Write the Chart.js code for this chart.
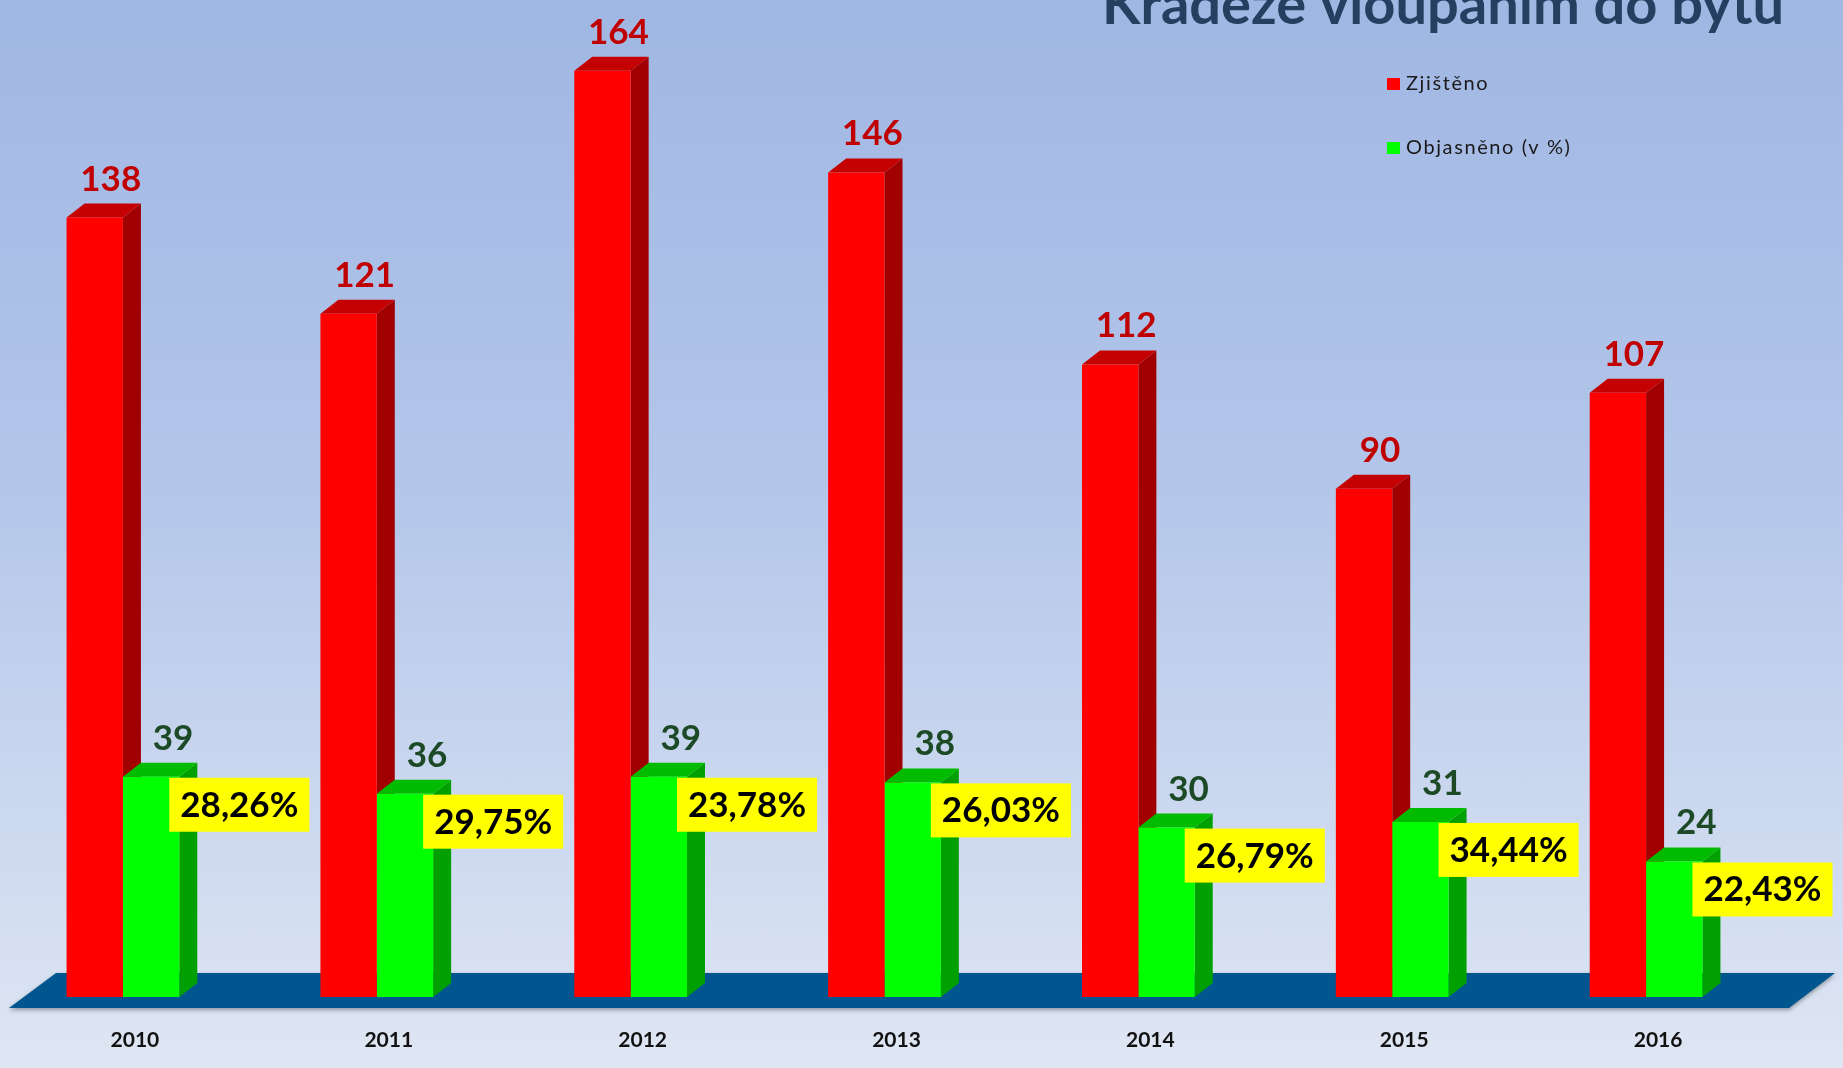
<!DOCTYPE html>
<html>
<head>
<meta charset="utf-8">
<script src="https://cdn.jsdelivr.net/npm/chart.js@4.4.0/dist/chart.umd.min.js"></script>
<style>
  html, body { margin: 0; padding: 0; }
  body {
    width: 1843px; height: 1068px; overflow: hidden; position: relative;
    background: linear-gradient(to bottom, #a0b7e3 0%, #b3c6ea 45%, #dfe6f3 100%);
  }
  /* canvas starts a few px left of the page, like the cropped slide */
  #wrap { position: absolute; left: -4px; top: 0; width: 1847px; height: 1068px; }
</style>
</head>
<body>
<div id="wrap"><canvas id="chart"></canvas></div>
<script>
const title = 'Krádeže vloupáním do bytu';
const years = ['2010', '2011', '2012', '2013', '2014', '2015', '2016'];
const zjisteno = [138, 121, 164, 146, 112, 90, 107];
const objasneno = [39, 36, 39, 38, 30, 31, 24];
const procenta = ['28,26%', '29,75%', '23,78%', '26,03%', '26,79%', '34,44%', '22,43%'];

// depth of the fake 3d blocks
const DX = 18, DY = 14;
const faces = [
  { front: '#ff0000', side: '#a00000', top: '#c40000' },
  { front: '#00ff00', side: '#00a000', top: '#00bb00' },
];

const threeD = {
  id: 'threeD',
  beforeDatasetsDraw(chart) {
    const ctx = chart.ctx;
    const area = chart.chartArea;
    const y0 = chart.scales.y.getPixelForValue(0);

    // floor
    ctx.save();
    ctx.shadowColor = 'rgba(0,0,0,0.35)';
    ctx.shadowBlur = 4;
    ctx.shadowOffsetY = 2;
    ctx.fillStyle = '#02568f';
    ctx.beginPath();
    ctx.moveTo(area.left + 60, y0 - 24);
    ctx.lineTo(area.right + 62, y0 - 24);
    ctx.lineTo(area.right + 16, y0 + 11);
    ctx.lineTo(area.left + 13, y0 + 11);
    ctx.closePath();
    ctx.fill();
    ctx.restore();

    // side + top faces, fronts are drawn by chart.js on top
    chart.data.datasets.forEach((ds, di) => {
      chart.getDatasetMeta(di).data.forEach(bar => {
        const l = bar.x - bar.width / 2, r = bar.x + bar.width / 2;
        const t = bar.y, b = bar.base;
        ctx.fillStyle = faces[di].side;
        ctx.beginPath();
        ctx.moveTo(r, t);
        ctx.lineTo(r + DX, t - DY);
        ctx.lineTo(r + DX, b - DY);
        ctx.lineTo(r, b);
        ctx.closePath();
        ctx.fill();
        ctx.fillStyle = faces[di].top;
        ctx.beginPath();
        ctx.moveTo(l, t);
        ctx.lineTo(l + DX, t - DY);
        ctx.lineTo(r + DX, t - DY);
        ctx.lineTo(r, t);
        ctx.closePath();
        ctx.fill();
      });
    });
  },
  afterDatasetsDraw(chart) {
    const ctx = chart.ctx;
    ctx.save();
    ctx.font = 'bold 35px Lato';
    ctx.textAlign = 'center';
    ctx.textBaseline = 'alphabetic';

    chart.getDatasetMeta(0).data.forEach((bar, i) => {
      ctx.fillStyle = '#c00000';
      ctx.fillText(String(zjisteno[i]), bar.x + 16, bar.y - 27);
    });
    chart.getDatasetMeta(1).data.forEach((bar, i) => {
      ctx.fillStyle = '#1d4a26';
      ctx.fillText(String(objasneno[i]), bar.x + 22, bar.y - 27);

      // yellow percentage box
      const txt = procenta[i];
      const w = ctx.measureText(txt).width + 22;
      const h = 54;
      let x = bar.x + bar.width / 2 - 10;
      if (x + w > chart.width) x = chart.width - w - 4;
      ctx.fillStyle = '#ffff00';
      ctx.fillRect(x, bar.y + 1, w, h);
      ctx.fillStyle = '#000000';
      ctx.fillText(txt, x + w / 2, bar.y + 40);
    });

    // title (cut off at the top like the original slide)
    ctx.font = 'bold 56px Lato';
    ctx.textAlign = 'left';
    ctx.fillStyle = '#263f60';
    ctx.fillText(title, 1106, 24);

    // legend
    ctx.font = '20px Lato';
    ctx.letterSpacing = '1.6px';
    ctx.textBaseline = 'middle';
    chart.data.datasets.forEach((ds, di) => {
      const y = 84 + di * 64;
      ctx.fillStyle = ds.backgroundColor;
      ctx.fillRect(1391, y - 6, 13, 12);
      ctx.fillStyle = '#1a1a1a';
      ctx.fillText(ds.label, 1410, y);
    });
    ctx.restore();
  }
};

new Chart(document.getElementById('chart').getContext('2d'), {
  type: 'bar',
  data: {
    labels: years,
    datasets: [
      { label: 'Zjištěno', data: zjisteno, backgroundColor: '#ff0000' },
      { label: 'Objasněno (v %)', data: objasneno, backgroundColor: '#00ff00' },
    ],
  },
  options: {
    responsive: true,
    maintainAspectRatio: false,
    animation: false,
    layout: { padding: { top: 3, left: 0, right: 70, bottom: 0 } },
    datasets: { bar: { categoryPercentage: 0.444, barPercentage: 1, borderWidth: 0 } },
    plugins: { legend: { display: false }, tooltip: { enabled: false } },
    scales: {
      x: {
        grid: { display: false, drawTicks: false },
        border: { display: false },
        ticks: {
          font: { family: 'Lato', size: 21, weight: 'bold' },
          color: '#111111',
          padding: 31,
          labelOffset: 12,
        },
        afterFit(scale) { scale.height = 71; },
      },
      y: { display: false, min: 0, max: 176 },
    },
  },
  plugins: [threeD],
});
</script>
</body>
</html>
